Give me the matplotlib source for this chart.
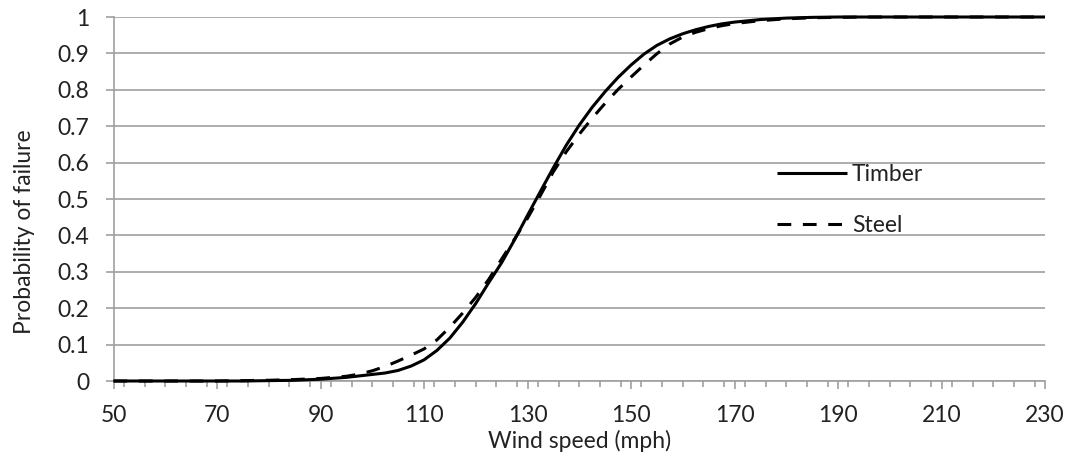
import matplotlib
matplotlib.use("Agg")
import matplotlib.pyplot as plt
from matplotlib.ticker import MultipleLocator, FuncFormatter

plt.rcParams['font.family'] = ['Lato', 'DejaVu Sans']

wind_speed = [50, 55, 60, 65, 70, 75, 80, 85, 90, 95, 97.5, 100, 102.5, 105, 107.5, 110,
              112.5, 115, 117.5, 120, 122.5, 125, 127.5, 130, 132.5, 135, 137.5,
              140, 142.5, 145, 147.5, 150, 152.5, 155, 157.5, 160, 162.5, 165, 167.5,
              170, 175, 180, 185, 190, 195, 200, 205, 210, 215, 220, 225, 230]

timber = [0, 0, 0, 0, 0, 0, 0.001, 0.002, 0.005, 0.01, 0.014, 0.018, 0.022, 0.029, 0.041, 0.058,
          0.084, 0.118, 0.162, 0.213, 0.27, 0.325, 0.388, 0.455, 0.521, 0.586, 0.648,
          0.703, 0.752, 0.795, 0.834, 0.868, 0.898, 0.922, 0.94, 0.954, 0.965, 0.974, 0.981,
          0.986, 0.993, 0.997, 0.999, 1, 1, 1, 1, 1, 1, 1, 1, 1]

steel = [0, 0, 0, 0, 0, 0.001, 0.002, 0.004, 0.007, 0.013, 0.019, 0.028, 0.04, 0.055, 0.071, 0.088,
         0.113, 0.148, 0.187, 0.23, 0.279, 0.335, 0.39, 0.447, 0.51, 0.575, 0.63,
         0.678, 0.722, 0.763, 0.801, 0.835, 0.868, 0.899, 0.926, 0.945, 0.958, 0.968, 0.976,
         0.982, 0.99, 0.995, 0.998, 0.999, 1, 1, 1, 1, 1, 1, 1, 1]

x_ticks = [50, 70, 90, 110, 130, 150, 170, 190, 210, 230]
y_ticks = [0, 0.1, 0.2, 0.3, 0.4, 0.5, 0.6, 0.7, 0.8, 0.9, 1]

GRID = '#A0A0A0'
TEXT = '#222222'
FS = 16.5

fig = plt.figure(figsize=(10.71, 4.59), dpi=100)
ax = fig.add_axes([113.5/1071, 78/459, (1045-113.5)/1071, 364/459])

ax.plot(wind_speed, timber, color='black', lw=2.2, label='Timber',
        solid_capstyle='butt', solid_joinstyle='round', clip_on=False, zorder=3)
ax.plot(wind_speed, steel, color='black', lw=2.2, label='Steel',
        dashes=(4.5, 3.8), dash_capstyle='butt', clip_on=False, zorder=3)

ax.set_xlim(50, 230)
ax.set_ylim(0, 1)
ax.set_xticks(x_ticks)
ax.xaxis.set_minor_locator(MultipleLocator(4))
ax.set_yticks(y_ticks)
ax.yaxis.set_major_formatter(FuncFormatter(lambda v, p: f"{v:g}"))

ax.grid(axis='y', color=GRID, lw=1.2, zorder=0)
ax.set_axisbelow(True)
for s in ['top', 'right']:
    ax.spines[s].set_visible(False)
for s in ['left', 'bottom']:
    ax.spines[s].set_color(GRID)
    ax.spines[s].set_linewidth(1.2)

ax.tick_params(axis='x', which='major', length=6, width=1.2, color=GRID,
               labelsize=FS, labelcolor=TEXT, pad=11)
ax.tick_params(axis='x', which='minor', length=4.5, width=1.2, color=GRID)
ax.tick_params(axis='y', which='major', length=5.5, width=1.2, color=GRID,
               labelsize=FS, labelcolor=TEXT, pad=12)

ax.set_xlabel('Wind speed (mph)', fontsize=FS, color=TEXT, labelpad=3)
ax.set_ylabel('Probability of failure', fontsize=FS, color=TEXT)
ax.yaxis.set_label_coords(-0.084, 0.41)

leg = ax.legend(loc='upper left', bbox_to_anchor=((777-113.5)/931.5, (381-164)/364),
                frameon=False, fontsize=FS, handlelength=3.05, handletextpad=0.22,
                labelspacing=1.32, borderpad=0, borderaxespad=0)
for t in leg.get_texts():
    t.set_color(TEXT)

fig.savefig('out.png', dpi=100)
